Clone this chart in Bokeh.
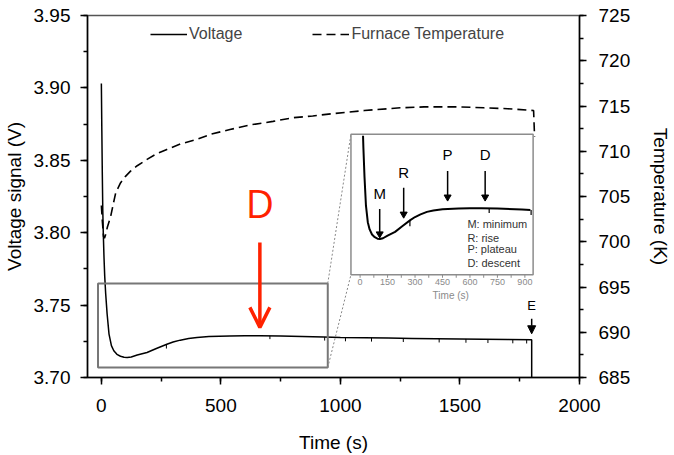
from bokeh.plotting import figure
from bokeh.models import (Range1d, LinearAxis, SingleIntervalTicker, PrintfTickFormatter,
                          Legend, LegendItem, Arrow, OpenHead, NormalHead)
from bokeh.core.properties import value
from bokeh.embed import file_html
from bokeh.resources import INLINE

FONT = "Liberation Sans"

# ---------------- data ----------------
# Voltage signal (V) vs time (s)
volt_t = [0, 2, 4, 6, 8, 11, 14, 16, 18, 24, 32, 42, 52, 65, 80, 95, 108, 125, 150, 191,
          230, 274, 300, 330, 365, 400, 450, 538, 600, 662, 750, 884, 930, 1000, 1100,
          1200, 1300, 1400, 1500, 1600, 1700, 1800, 1800]
volt_v = [3.903, 3.870, 3.840, 3.815, 3.800, 3.783, 3.770, 3.764, 3.758, 3.744, 3.730,
          3.722, 3.7185, 3.7160, 3.7147, 3.7140, 3.7138, 3.7142, 3.7155, 3.7173, 3.7200,
          3.7230, 3.7245, 3.7258, 3.7270, 3.7277, 3.7283, 3.7286, 3.7288, 3.7288, 3.7286,
          3.7281, 3.7279, 3.7276, 3.7274, 3.7272, 3.7270, 3.7268, 3.7266, 3.7264, 3.7262,
          3.7260, 3.700]

# Furnace temperature (K) vs time (s)
temp_t = [0, 4, 9, 13, 18, 25, 39, 50, 60, 80, 100, 122, 150, 191, 230, 274, 330, 399,
          460, 538, 620, 718, 800, 884, 950, 1023, 1100, 1148, 1250, 1350, 1413, 1500,
          1600, 1700, 1808, 1812]
temp_k = [704.0, 702.3, 700.6, 700.4, 700.8, 701.6, 702.8, 704.2, 705.4, 706.5, 707.2,
          707.8, 708.4, 709.1, 709.7, 710.2, 710.8, 711.3, 711.9, 712.4, 712.9, 713.3,
          713.7, 713.9, 714.1, 714.3, 714.5, 714.6, 714.8, 714.9, 714.9, 714.9, 714.8,
          714.7, 714.5, 711.6]

# short downward glitches of the voltage trace
glitch_t = [272, 705, 934, 1021, 1130, 1263, 1413, 1525, 1617, 1721, 1779]
glitch_top = [3.7230, 3.7287, 3.7279, 3.7276, 3.7274, 3.7271, 3.7268, 3.7266, 3.7264, 3.7262, 3.7261]
glitch_bottom = [3.7200, 3.7265, 3.7255, 3.7250, 3.7248, 3.7245, 3.7242, 3.7240, 3.7238, 3.7236, 3.7235]

# zoomed region (main axes) and inset placement (main axes)
zoom_t = [-14, 947]
zoom_v = [3.7069, 3.765]
inset_t = [1044, 1806]
inset_v = [3.771, 3.868]
inset_src_t = [-50, 945]
inset_src_v = [3.6965, 3.7647]

# inset annotations
inset_major = [0, 150, 300, 450, 600, 750, 900]
inset_minor = [75, 225, 375, 525, 675, 825]
stage_letters = ["M", "R", "P", "D"]
stage_t = [107, 238, 478, 683]
stage_arrow_top = [3.7284, 3.7387, 3.7468, 3.7468]
stage_arrow_tip = [3.7163, 3.7259, 3.7342, 3.7342]
stage_label_v = [3.7358, 3.7460, 3.7549, 3.7549]
stage_legend = ["M: minimum", "R: rise", "P: plateau", "D: descent"]
stage_legend_v = [3.7213, 3.7145, 3.7089, 3.7020]

# ---------------- figure ----------------
p = figure(width=674, height=455, x_range=Range1d(-58, 2000), y_range=Range1d(3.70, 3.95),
           output_backend="svg", toolbar_location=None,
           min_border_left=87, min_border_right=93, min_border_top=15, min_border_bottom=78,
           x_axis_label="Time (s)", y_axis_label="Voltage signal (V)")
p.extra_y_ranges = {"temp": Range1d(685, 725)}
p.add_layout(LinearAxis(y_range_name="temp", axis_label="Temperature (K)"), "right")
p.grid.visible = False
p.outline_line_color = "#555555"
p.outline_line_width = 1.5

p.xaxis.ticker = SingleIntervalTicker(interval=500, num_minor_ticks=2)
p.yaxis[0].ticker = SingleIntervalTicker(interval=0.05, num_minor_ticks=2)
p.yaxis[0].formatter = PrintfTickFormatter(format="%.2f")
p.yaxis[1].ticker = SingleIntervalTicker(interval=5, num_minor_ticks=2)

for ax in p.axis:
    ax.axis_line_color = "black"
    ax.axis_line_width = 1.5
    ax.major_tick_line_width = 1.5
    ax.minor_tick_line_width = 1.5
    ax.major_tick_in = 0
    ax.major_tick_out = 7
    ax.minor_tick_in = 0
    ax.minor_tick_out = 4
    ax.major_label_text_font = FONT
    ax.major_label_text_font_size = "19px"
    ax.major_label_text_color = "black"
    ax.axis_label_text_font = FONT
    ax.axis_label_text_font_size = "19px"
    ax.axis_label_text_font_style = "normal"
    ax.axis_label_text_color = "black"

p.yaxis[0].major_label_standoff = 10
p.yaxis[0].axis_label_standoff = 6
p.yaxis[1].major_label_standoff = 12
p.yaxis[1].axis_label_standoff = 17
p.xaxis.major_label_standoff = 14
p.xaxis.axis_label_standoff = 17

# main traces
r_t = p.line(temp_t, temp_k, y_range_name="temp", color="black", line_width=1.6, line_dash="9 5")
r_v = p.line(volt_t, volt_v, color="black", line_width=1.5)
p.segment(x0=glitch_t, y0=glitch_top, x1=glitch_t, y1=glitch_bottom, color="black", line_width=1)

# zoom box and connectors
p.quad(left=[zoom_t[0]], right=[zoom_t[1]], bottom=[zoom_v[0]], top=[zoom_v[1]],
       fill_alpha=0, line_color="#777777", line_width=2)
p.segment(x0=[zoom_t[1], zoom_t[1]], y0=[zoom_v[1], zoom_v[0]],
          x1=[inset_t[0], inset_t[0]], y1=[inset_v[1], inset_v[0]],
          line_color="#888888", line_width=1, line_dash="2 2")

# inset frame
p.quad(left=[inset_t[0]], right=[inset_t[1]], bottom=[inset_v[0]], top=[inset_v[1]],
       fill_color="white", line_color="#8c8c8c", line_width=1.5)

sub = p.subplot(x_source=Range1d(*inset_src_t), y_source=Range1d(*inset_src_v),
                x_target=Range1d(*inset_t), y_target=Range1d(*inset_v))

in_t = [t for t, v in zip(volt_t, volt_v) if v <= inset_src_v[1] and t <= inset_src_t[1]]
in_v = [v for t, v in zip(volt_t, volt_v) if v <= inset_src_v[1] and t <= inset_src_t[1]]
sub.line(in_t, in_v, color="black", line_width=2)
g_in = [i for i, t in enumerate(glitch_t) if t <= inset_src_t[1]]
sub.segment(x0=[glitch_t[i] for i in g_in], y0=[glitch_top[i] for i in g_in],
            x1=[glitch_t[i] for i in g_in], y1=[glitch_bottom[i] for i in g_in],
            color="black", line_width=1.2)

TICK = 0.0015
ybot = inset_src_v[0]
sub.segment(x0=inset_major + inset_minor, y0=[ybot] * 13,
            x1=inset_major + inset_minor, y1=[ybot - TICK] * 13,
            color="#8c8c8c", line_width=1)
sub.text(x=inset_major, y=[ybot] * len(inset_major), text=[str(v) for v in inset_major],
         y_offset=4, text_baseline="top", text_align="center", text_font=value(FONT),
         text_font_size="9px", text_color="#8a8a8a")
sub.text(x=[495], y=[ybot], text=["Time (s)"], y_offset=15, text_baseline="top",
         text_align="center", text_font=value(FONT), text_font_size="10px", text_color="#8a8a8a")

sub.segment(x0=stage_t, y0=stage_arrow_top, x1=stage_t, y1=stage_arrow_tip,
            color="black", line_width=1.5)
sub.scatter(x=stage_t, y=stage_arrow_tip, marker="inverted_triangle", size=7,
            color="black")
sub.text(x=stage_t, y=stage_label_v, text=stage_letters, text_baseline="middle",
         text_align="center", text_font=value(FONT), text_font_size="15px", text_color="black")
sub.text(x=[586] * 4, y=stage_legend_v, text=stage_legend, text_baseline="middle",
         text_align="left", text_font=value(FONT), text_font_size="11px", text_color="#333333")

# E marker
p.add_layout(Arrow(end=NormalHead(size=8, fill_color="black", line_color="black", line_width=1),
                   x_start=1800, y_start=3.7406, x_end=1800, y_end=3.7302,
                   line_color="black", line_width=1.5))
p.text(x=[1800], y=[3.7495], text=["E"], text_baseline="middle", text_align="center",
       text_font=value(FONT), text_font_size="13px", text_color="black")

# red D annotation
RED = "#ff2200"
p.add_layout(Arrow(end=OpenHead(line_color=RED, line_width=3.5, size=20),
                   x_start=663, y_start=3.7933, x_end=663, y_end=3.7346,
                   line_color=RED, line_width=3.5))
p.text(x=[663], y=[3.8210], text=["D"], text_baseline="alphabetic", text_align="center",
       text_font=value("Open Sans"), text_font_size="39px", text_color=RED)

legend = Legend(items=[LegendItem(label="Voltage", renderers=[r_v]),
                       LegendItem(label="Furnace Temperature", renderers=[r_t])],
                orientation="horizontal", location=(63, 333), border_line_alpha=0,
                background_fill_alpha=0, label_text_font=FONT, label_text_font_size="16px",
                glyph_width=37, label_standoff=2, spacing=70, padding=0, margin=0)
p.add_layout(legend)

open("out.html", "w").write(file_html(p, INLINE))
